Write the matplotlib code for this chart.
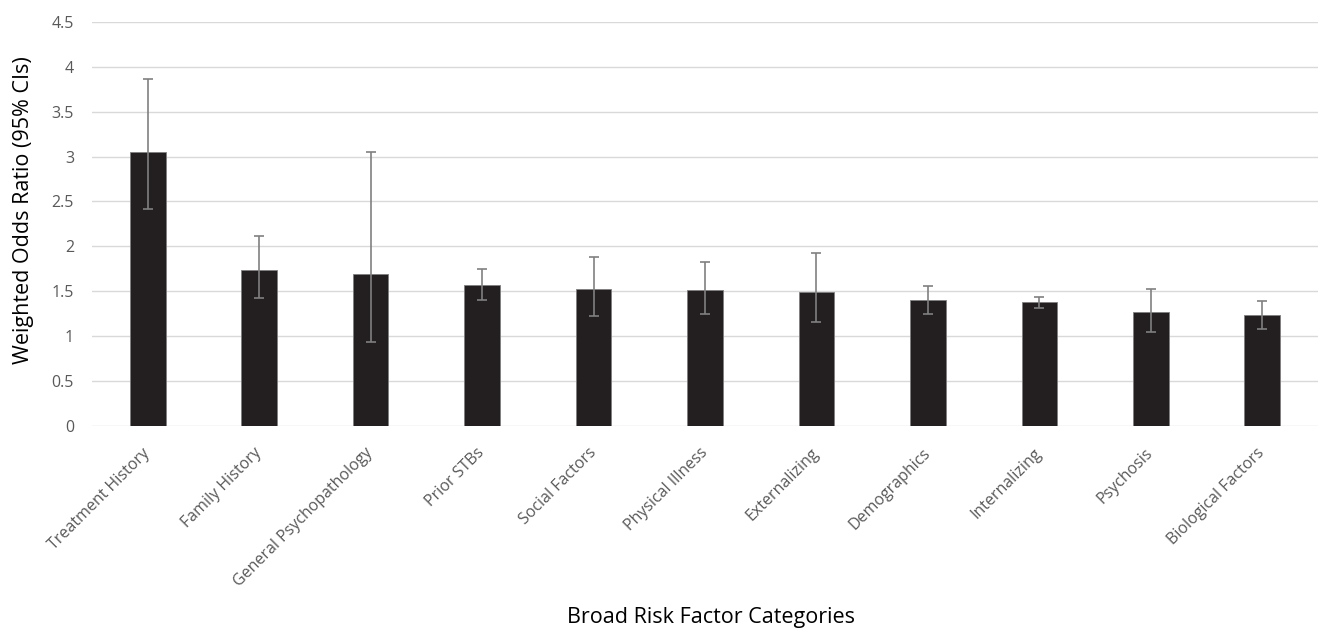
import matplotlib
matplotlib.use("Agg")
import matplotlib.pyplot as plt
import numpy as np

plt.rcParams['font.family'] = ['Open Sans', 'DejaVu Sans']

categories = ["Treatment History", "Family History", "General Psychopathology",
              "Prior STBs", "Social Factors", "Physical Illness", "Externalizing",
              "Demographics", "Internalizing", "Psychosis", "Biological Factors"]
odds_ratio = [3.05, 1.74, 1.69, 1.57, 1.52, 1.51, 1.49, 1.40, 1.38, 1.27, 1.23]
ci_upper = [3.86, 2.12, 3.05, 1.745, 1.88, 1.82, 1.92, 1.56, 1.44, 1.52, 1.39]
ci_lower = [2.41, 1.42, 0.93, 1.40, 1.22, 1.25, 1.155, 1.24, 1.31, 1.05, 1.08]
yticks = [0, 0.5, 1, 1.5, 2, 2.5, 3, 3.5, 4, 4.5]
ytick_labels = ["0", "0.5", "1", "1.5", "2", "2.5", "3", "3.5", "4", "4.5"]

fig = plt.figure(figsize=(13.18, 6.28), dpi=100)
ax = fig.add_axes([92/1318, 1 - 425.7/628, (1318 - 92)/1318, (425.7 - 22)/628])

x = np.arange(len(categories))
vals = np.array(odds_ratio)
yerr = np.array([vals - np.array(ci_lower), np.array(ci_upper) - vals])
ax.bar(x, vals, width=0.32, color='#231f20', edgecolor='#7f7f7f', linewidth=0.6, zorder=2)
ax.errorbar(x, vals, yerr=yerr, fmt='none', ecolor='#808080', elinewidth=1.2,
            capsize=3.3, capthick=1.2, zorder=3)

ax.set_xlim(-0.5, len(categories) - 0.5)
ax.set_ylim(0, 4.5)
ax.set_yticks(yticks)
ax.set_yticklabels(ytick_labels)
ax.yaxis.grid(True, color='#d9d9d9', linewidth=1)
ax.set_axisbelow(True)
for s in ['top', 'right', 'left', 'bottom']:
    ax.spines[s].set_visible(False)
ax.tick_params(axis='both', length=0, colors='#595959', labelsize=11.5)
ax.tick_params(axis='y', pad=13)
ax.set_xticks(x)
ax.set_xticklabels(categories, rotation=45, ha='right', va='center',
                   rotation_mode='anchor')
ax.tick_params(axis='x', pad=18)

fig.text(24/1318, 1 - 210/628, "Weighted Odds Ratio (95% CIs)", fontsize=15.5,
         rotation=90, ha='center', va='center', color='black')
fig.text(711/1318, 1 - 618/628, "Broad Risk Factor Categories", fontsize=15.5,
         ha='center', va='center', color='black')

fig.savefig("out.png", dpi=100)
